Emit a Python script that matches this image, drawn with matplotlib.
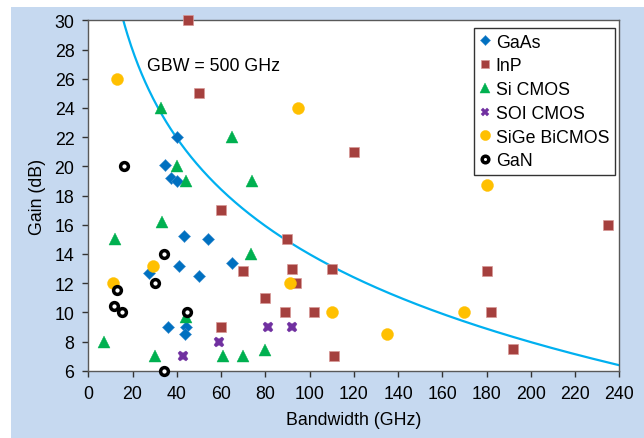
import numpy as np
import matplotlib
matplotlib.use("Agg")
import matplotlib.pyplot as plt
from matplotlib.patches import Rectangle

plt.rcParams['font.family'] = ['Liberation Sans', 'DejaVu Sans']

# Data (Bandwidth GHz, Gain dB)
gaas_bw = [40, 34.5, 37.4, 40, 43.3, 54, 41.1, 27.6, 50.2, 65.1, 36, 44, 43.6]
gaas_gain = [22, 20.1, 19.2, 19.0, 15.2, 15.0, 13.2, 12.7, 12.5, 13.4, 9.0, 9.0, 8.5]

inp_bw = [45, 50, 120, 60, 90, 70, 92, 110, 94, 80, 89, 102, 60, 111, 235, 180, 182, 192]
inp_gain = [30, 25, 21, 17, 15, 12.8, 13, 13, 12, 11, 10, 10, 9, 7, 16, 12.8, 10, 7.5]

sicmos_bw = [33, 65, 40, 44, 74, 33.5, 12, 73.5, 7, 30, 61, 70, 80, 44]
sicmos_gain = [24, 22, 20, 19, 19, 16.2, 15, 14, 8, 7, 7, 7, 7.4, 9.7]

soi_bw = [43, 59, 81, 92]
soi_gain = [7, 8, 9, 9]

sige_bw = [13, 95, 180, 29.4, 11, 91, 110, 135, 170]
sige_gain = [26, 24, 18.7, 13.2, 12, 12, 10, 8.5, 10]

gan_bw = [16, 34, 30, 12.8, 11.6, 15.4, 44.6, 34]
gan_gain = [20, 14, 12, 11.5, 10.4, 10, 10, 6]

gbw = 500  # GHz
x_ticks = list(range(0, 241, 20))
y_ticks = list(range(6, 31, 2))

FS = 12.8

fig = plt.figure(figsize=(6.44, 4.39), dpi=100)
fig.patch.set_facecolor('white')
bg = Rectangle((11/644, 0), 1 - 11/644, 1 - 8/439,
               transform=fig.transFigure, facecolor='#C6D9F0',
               edgecolor='none', zorder=-10)
fig.add_artist(bg)

ax = fig.add_axes([88.3/644, 1 - 371.7/439, (619.3-88.3)/644, (371.7-21.3)/439])
ax.set_zorder(1)
ax.set_facecolor('white')

bw = np.linspace(1, 240, 600)
gain = 20 * np.log10(gbw / bw)
ax.plot(bw, gain, color='#00B0F0', lw=1.6, zorder=2)

kw = dict(ls='none', clip_on=False)
ax.plot(gaas_bw, gaas_gain, 'D', ms=6.0, color='#0070C0', mec='#3F8FD0', mew=0.4, label='GaAs', zorder=3, **kw)
ax.plot(inp_bw, inp_gain, 's', ms=6.8, color='#A5403E', mec='#D89896', mew=0.5, label='InP', zorder=3, **kw)
ax.plot(sicmos_bw, sicmos_gain, '^', ms=8.5, color='#00B050', mec='#00B050', mew=0.3, label='Si CMOS', zorder=3, **kw)
ax.plot(soi_bw, soi_gain, 'X', ms=7.5, color='#7030A0', mec='#7030A0', mew=0.3, label='SOI CMOS', zorder=3, **kw)
ax.plot(sige_bw, sige_gain, 'o', ms=8.6, color='#FFC000', mec='#FFC000', mew=0.3, label='SiGe BiCMOS', zorder=3, **kw)
ax.plot(gan_bw, gan_gain, 'o', ms=5.6, mfc='white', mec='black', mew=2.5, label='GaN', zorder=4, **kw)

ax.set_xlim(0, 240)
ax.set_ylim(6, 30)
ax.set_xticks(x_ticks)
ax.set_yticks(y_ticks)
for s in ax.spines.values():
    s.set_color('#595959')
    s.set_linewidth(1.0)
ax.tick_params(axis='both', direction='out', length=4, width=1, color='#333333',
               labelsize=FS, pad=6)
ax.set_xlabel('Bandwidth (GHz)', fontsize=FS, labelpad=7)
ax.set_ylabel('Gain (dB)', fontsize=FS, labelpad=6)

ax.text(26.5, 26.9, 'GBW = 500 GHz', fontsize=FS, va='center', ha='left')

leg = ax.legend(loc='upper right', bbox_to_anchor=(614.5/644, 1 - 29.3/439),
                bbox_transform=fig.transFigure, fontsize=FS, frameon=True,
                fancybox=False, edgecolor='black', handlelength=0.6,
                handletextpad=0.3, labelspacing=0.38, borderpad=0.3,
                borderaxespad=0, markerscale=0.85)
leg.get_frame().set_linewidth(1.0)

fig.savefig('out.png', dpi=100)
